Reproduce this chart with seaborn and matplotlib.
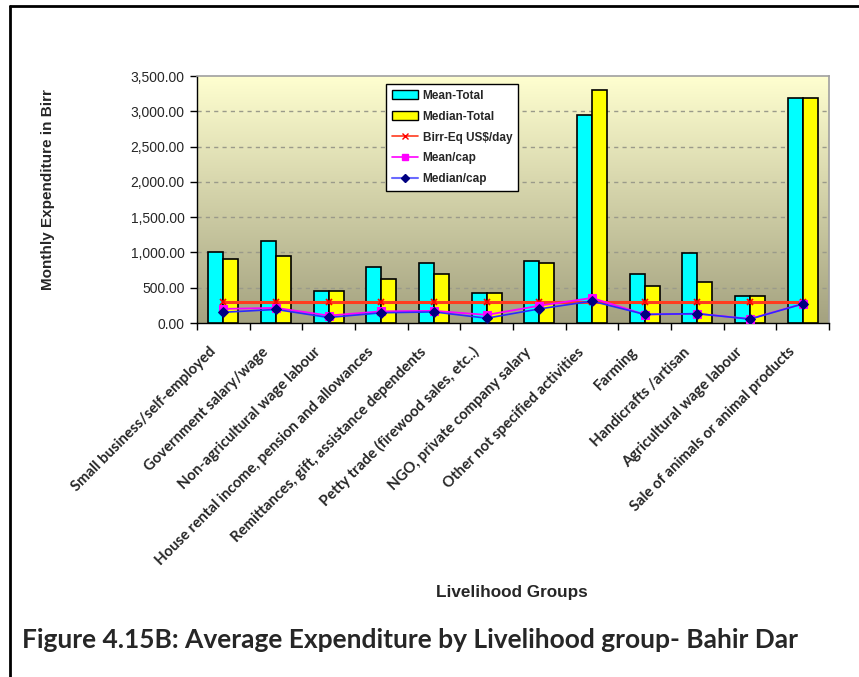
import numpy as np
import pandas as pd
import matplotlib
matplotlib.use("Agg")
import matplotlib.pyplot as plt
from matplotlib.lines import Line2D
from matplotlib.patches import Patch
from matplotlib.transforms import ScaledTranslation
import seaborn as sns

categories = ["Small business/self-employed", "Government salary/wage",
              "Non-agricultural wage labour", "House rental income, pension and allowances",
              "Remittances, gift, assistance dependents", "Petty trade (firewood sales, etc..)",
              "NGO, private company salary", "Other not specified activities", "Farming",
              "Handicrafts /artisan", "Agricultural wage labour", "Sale of animals or animal products"]
mean_total = [1005, 1160, 458, 790, 850, 430, 880, 2945, 700, 995, 380, 3185]
median_total = [908, 955, 458, 625, 688, 430, 852, 3302, 520, 587, 380, 3185]
birr_eq = [295, 295, 295, 295, 295, 295, 295, 295, 295, 295, 295, 295]
mean_cap = [200, 214, 105, 165, 172, 115, 245, 355, 120, 132, 58, 272]
median_cap = [152, 192, 78, 145, 157, 68, 200, 310, 122, 132, 55, 270]
yticks = [0, 500, 1000, 1500, 2000, 2500, 3000, 3500]

sns.set_theme(style="white")
plt.rcParams['font.family'] = ['Liberation Sans', 'DejaVu Sans']

fig = plt.figure(figsize=(8.59, 6.77), dpi=100)
ax = fig.add_axes([197/859, 1-323/677, 632/859, 247/677])

# gradient background
top = np.array([255, 255, 208]) / 255
bot = np.array([164, 162, 128]) / 255
t = np.linspace(0, 1, 256)[:, None]
grad = (top * (1 - t) + bot * t)[:, None, :]
ax.imshow(grad, extent=[0, 1, 0, 1], transform=ax.transAxes, aspect='auto', zorder=0)

df = pd.DataFrame({
    "group": categories * 2,
    "value": mean_total + median_total,
    "series": ["Mean-Total"] * len(categories) + ["Median-Total"] * len(categories),
})
sns.barplot(data=df, x="group", y="value", hue="series", order=categories,
            palette=["#00FFFF", "#FFFF00"], width=0.57, edgecolor="black",
            linewidth=1.2, ax=ax, legend=False, zorder=3, saturation=1)

xpos = np.arange(len(categories))
sns.lineplot(x=xpos, y=birr_eq, ax=ax, color="#FF3B1F", lw=2.2, marker="x",
             markersize=5, markeredgecolor="#FF0000", markeredgewidth=1.2, zorder=4)
sns.lineplot(x=xpos, y=mean_cap, ax=ax, color="#FF00FF", lw=1.3, marker="s",
             markersize=6, markeredgecolor="#FF00FF", zorder=5)
sns.lineplot(x=xpos, y=median_cap, ax=ax, color="#2A2AFF", lw=1.2, marker="D",
             markersize=5, markerfacecolor="#000080", markeredgecolor="#000080", zorder=6)

ax.set_xlim(-0.5, len(categories) - 0.5)
ax.set_ylim(0, 3500)
ax.set_yticks(yticks)
ax.set_yticklabels([f"{v:,.2f}" for v in yticks], fontsize=10)
for v in yticks[1:-1]:
    ax.axhline(v, color="#9A9A8A", lw=1, ls=(0, (3, 3)), zorder=1)

ax.set_xticks(xpos)
ax.set_xticklabels(categories, rotation=45, ha="right", va="center",
                   rotation_mode="anchor", fontsize=10.7, fontweight="bold",
                   family=["Lato", "DejaVu Sans"])
ax.tick_params(axis="x", which="major", length=0, pad=20)
ax.set_xticks(np.arange(-0.5, len(categories), 1), minor=True)
ax.tick_params(axis="x", which="minor", length=5, width=1, color="black", direction="out", bottom=True)
ax.tick_params(axis="y", length=5, width=1, color="black", direction="out", left=True, pad=4)
offset = ScaledTranslation(-10/100, 1/100, fig.dpi_scale_trans)
for lab in ax.get_xticklabels():
    lab.set_transform(lab.get_transform() + offset)

for s in ["left", "bottom"]:
    ax.spines[s].set_color("black")
    ax.spines[s].set_linewidth(1)
for s in ["top", "right"]:
    ax.spines[s].set_color("#A0A0A0")
    ax.spines[s].set_linewidth(1.2)

ax.set_xlabel("")
ax.set_ylabel("")

handles = [
    Patch(facecolor="#00FFFF", edgecolor="black", label="Mean-Total"),
    Patch(facecolor="#FFFF00", edgecolor="black", label="Median-Total"),
    Line2D([], [], color="#FF3B1F", lw=1.2, marker="x", markersize=4, markeredgecolor="#FF0000", label=r"Birr-Eq US\$/day"),
    Line2D([], [], color="#FF00FF", lw=1.2, marker="s", markersize=5, label="Mean/cap"),
    Line2D([], [], color="#6A6AFF", lw=1.5, marker="D", markersize=4, markerfacecolor="#000080", markeredgecolor="#000080", label="Median/cap"),
]
leg = ax.legend(handles=handles, loc="upper left", bbox_to_anchor=(0.299, 0.968),
                borderaxespad=0, frameon=True, fancybox=False, framealpha=1,
                edgecolor="black", prop={"weight": "bold", "size": 8.5},
                handlelength=2.2, handleheight=0.8, labelspacing=0.75, borderpad=0.5,
                handletextpad=0.4)
leg.get_frame().set_linewidth(1)
leg.set_zorder(10)

fig.text(48/859, 1-190/677, "Monthly Expenditure in Birr", rotation=90, ha="center", va="center",
         fontsize=11, fontweight="bold")
fig.text(512/859, 1-593/677, "Livelihood Groups", ha="center", va="center",
         fontsize=12.3, fontweight="bold")
fig.text(22/859, 1-640/677, "Figure 4.15B: Average Expenditure by Livelihood group- Bahir Dar",
         ha="left", va="center", fontsize=19, fontweight="bold", family=["Lato", "DejaVu Sans"])

fig.add_artist(Line2D([10/859, 10/859], [0, 1-6/677], transform=fig.transFigure, color="black", lw=2))
fig.add_artist(Line2D([10/859, 1], [1-6/677, 1-6/677], transform=fig.transFigure, color="black", lw=2))

fig.savefig("out.png", dpi=100)
